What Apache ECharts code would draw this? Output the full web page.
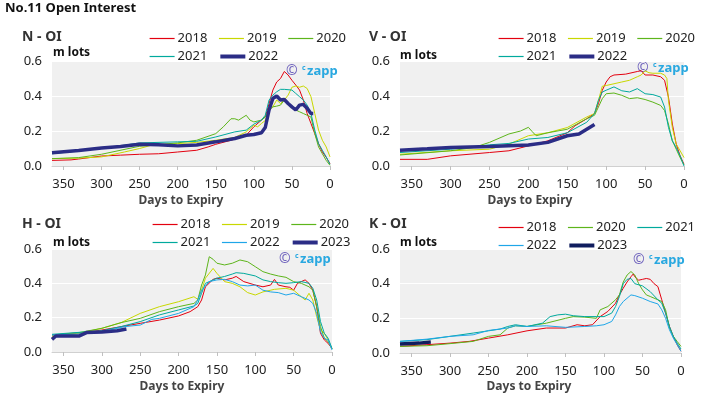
<!DOCTYPE html>
<html><head><meta charset="utf-8">
<script src="https://cdn.jsdelivr.net/npm/echarts@6/dist/echarts.min.js"></script>
<style>html,body{margin:0;padding:0;background:#fff}#c{width:716px;height:403px}</style>
</head><body><div id="c"></div>
<script>
// ---- Tick labels ----
const xTicks = [0, 50, 100, 150, 200, 250, 300, 350];
const yTicks = [0, 0.2, 0.4, 0.6];

// ---- N - OI (days to expiry, m lots) ----
const n2018 = [[365,0.032],[340,0.035],[330,0.04],[300,0.057],[275,0.062],[250,0.067],[225,0.07],[200,0.08],[175,0.09],[160,0.109],[150,0.124],[130,0.147],[110,0.176],[100,0.224],[90,0.262],[85,0.28],[80,0.357],[75,0.434],[70,0.48],[65,0.5],[60,0.54],[55,0.52],[50,0.49],[45,0.463],[40,0.434],[35,0.377],[30,0.3],[25,0.243],[20,0.185],[15,0.128],[10,0.08],[5,0.05],[0,0.013]];
const n2019 = [[365,0.042],[330,0.045],[300,0.052],[270,0.08],[250,0.1],[235,0.118],[200,0.128],[175,0.135],[150,0.147],[125,0.163],[110,0.195],[100,0.233],[95,0.224],[90,0.243],[85,0.26],[80,0.32],[75,0.338],[70,0.377],[65,0.357],[60,0.377],[55,0.405],[50,0.45],[45,0.457],[40,0.45],[35,0.457],[30,0.443],[25,0.396],[20,0.3],[15,0.205],[10,0.147],[5,0.109],[0,0.052]];
const n2020 = [[365,0.042],[330,0.048],[300,0.067],[250,0.113],[200,0.132],[175,0.147],[150,0.185],[140,0.224],[130,0.27],[125,0.27],[120,0.262],[110,0.29],[105,0.262],[100,0.252],[90,0.262],[85,0.28],[80,0.32],[75,0.338],[70,0.342],[65,0.348],[60,0.377],[55,0.357],[50,0.338],[45,0.32],[40,0.31],[35,0.3],[30,0.29],[25,0.28],[20,0.185],[15,0.109],[10,0.07],[5,0.032],[0,0.004]];
const n2021 = [[365,0.07],[300,0.1],[250,0.132],[200,0.138],[175,0.141],[150,0.166],[125,0.195],[110,0.205],[100,0.239],[90,0.262],[85,0.29],[80,0.377],[75,0.405],[70,0.424],[65,0.438],[60,0.438],[50,0.434],[45,0.415],[40,0.396],[35,0.377],[30,0.348],[25,0.3],[20,0.205],[15,0.128],[10,0.09],[5,0.052],[0,0.01]];
const n2022 = [[365,0.076],[330,0.088],[300,0.103],[275,0.112],[250,0.124],[225,0.122],[200,0.115],[175,0.12],[150,0.138],[125,0.157],[110,0.176],[100,0.18],[90,0.19],[85,0.22],[80,0.32],[75,0.386],[70,0.4],[65,0.377],[60,0.38],[55,0.357],[50,0.338],[45,0.32],[40,0.348],[35,0.352],[30,0.33],[25,0.3],[22,0.3]];

// ---- V - OI ----
const v2018 = [[365,0.038],[330,0.038],[300,0.058],[250,0.077],[225,0.087],[200,0.115],[175,0.144],[150,0.19],[140,0.23],[125,0.27],[115,0.3],[110,0.356],[105,0.433],[100,0.48],[95,0.51],[90,0.52],[75,0.525],[60,0.54],[55,0.545],[50,0.52],[40,0.52],[30,0.51],[25,0.49],[20,0.394],[15,0.24],[10,0.125],[5,0.058],[0,0.01]];
const v2019 = [[365,0.067],[300,0.087],[250,0.096],[225,0.125],[200,0.173],[175,0.19],[150,0.22],[125,0.28],[115,0.3],[110,0.375],[105,0.456],[100,0.46],[90,0.47],[80,0.48],[70,0.49],[60,0.51],[55,0.52],[50,0.544],[45,0.533],[40,0.53],[30,0.53],[25,0.52],[22,0.5],[20,0.375],[15,0.22],[10,0.125],[5,0.087],[0,0.048]];
const v2020 = [[365,0.063],[300,0.087],[270,0.106],[250,0.135],[225,0.183],[210,0.2],[200,0.221],[195,0.196],[190,0.173],[175,0.19],[150,0.21],[125,0.27],[115,0.29],[110,0.337],[105,0.385],[100,0.413],[90,0.417],[80,0.404],[70,0.385],[60,0.39],[50,0.38],[40,0.365],[30,0.346],[25,0.317],[20,0.24],[15,0.144],[10,0.096],[5,0.048],[0,0.006]];
const v2021 = [[365,0.077],[300,0.096],[250,0.121],[225,0.129],[200,0.154],[175,0.163],[150,0.19],[125,0.25],[115,0.3],[110,0.375],[105,0.423],[100,0.433],[90,0.452],[80,0.43],[70,0.423],[60,0.442],[50,0.413],[40,0.408],[30,0.394],[25,0.337],[20,0.221],[15,0.144],[10,0.106],[5,0.058],[0,0]];
const v2022 = [[365,0.09],[330,0.098],[300,0.106],[250,0.112],[200,0.12],[175,0.135],[150,0.173],[135,0.183],[125,0.21],[115,0.237]];

// ---- H - OI ----
const h2018 = [[365,0.099],[330,0.109],[300,0.128],[250,0.167],[225,0.186],[200,0.21],[185,0.235],[175,0.264],[170,0.303],[165,0.38],[155,0.423],[150,0.43],[140,0.42],[130,0.43],[125,0.44],[115,0.41],[100,0.39],[90,0.38],[80,0.39],[75,0.423],[70,0.39],[60,0.38],[55,0.377],[50,0.36],[45,0.4],[40,0.41],[35,0.42],[30,0.4],[25,0.36],[20,0.264],[15,0.109],[10,0.07],[5,0.05],[0,0.02]];
const h2019 = [[365,0.089],[330,0.109],[300,0.138],[275,0.171],[250,0.225],[225,0.264],[200,0.293],[180,0.322],[175,0.307],[170,0.36],[165,0.43],[155,0.487],[150,0.458],[140,0.41],[130,0.4],[120,0.38],[110,0.346],[100,0.332],[90,0.35],[75,0.365],[60,0.371],[50,0.36],[40,0.322],[35,0.303],[30,0.342],[25,0.303],[20,0.206],[15,0.128],[10,0.109],[5,0.07],[0,0.02]];
const h2020 = [[365,0.099],[330,0.113],[300,0.138],[275,0.171],[250,0.196],[225,0.235],[200,0.264],[180,0.283],[175,0.303],[170,0.39],[165,0.449],[160,0.555],[155,0.54],[150,0.517],[140,0.507],[130,0.517],[120,0.536],[110,0.526],[100,0.497],[90,0.468],[80,0.454],[70,0.443],[60,0.435],[50,0.41],[40,0.4],[30,0.38],[25,0.36],[20,0.264],[15,0.148],[10,0.08],[5,0.06],[0,0.02]];
const h2021 = [[365,0.103],[300,0.124],[275,0.148],[250,0.177],[225,0.216],[200,0.245],[180,0.268],[175,0.283],[170,0.342],[165,0.4],[155,0.42],[150,0.43],[140,0.44],[130,0.454],[125,0.462],[115,0.458],[100,0.443],[90,0.42],[80,0.41],[70,0.404],[60,0.4],[50,0.404],[40,0.41],[30,0.4],[25,0.371],[20,0.303],[15,0.177],[10,0.109],[5,0.08],[0,0.02]];
const h2022 = [[365,0.099],[330,0.105],[300,0.118],[270,0.148],[250,0.157],[235,0.19],[225,0.196],[200,0.225],[180,0.264],[175,0.303],[170,0.36],[165,0.385],[160,0.41],[150,0.42],[140,0.423],[130,0.41],[120,0.39],[110,0.385],[100,0.39],[90,0.36],[80,0.35],[70,0.346],[60,0.332],[50,0.342],[40,0.322],[30,0.303],[25,0.283],[20,0.225],[15,0.118],[10,0.08],[5,0.07],[0,0.012]];
const h2023 = [[365,0.074],[360,0.093],[330,0.093],[320,0.113],[300,0.117],[280,0.124],[268,0.134]];

// ---- K - OI ----
const k2018 = [[365,0.038],[330,0.048],[300,0.057],[275,0.067],[250,0.086],[225,0.105],[200,0.128],[175,0.144],[150,0.144],[135,0.163],[125,0.157],[115,0.163],[105,0.21],[95,0.24],[85,0.287],[80,0.335],[75,0.374],[70,0.41],[65,0.44],[62,0.456],[60,0.44],[55,0.42],[50,0.425],[45,0.43],[40,0.425],[35,0.4],[30,0.383],[25,0.307],[20,0.23],[15,0.153],[10,0.096],[5,0.048],[0,0.01]];
const k2020 = [[365,0.038],[330,0.042],[300,0.054],[270,0.067],[250,0.096],[235,0.105],[225,0.144],[215,0.157],[200,0.153],[175,0.172],[150,0.2],[140,0.21],[125,0.207],[110,0.2],[105,0.249],[95,0.268],[85,0.307],[80,0.335],[75,0.41],[70,0.45],[65,0.47],[60,0.45],[55,0.4],[50,0.364],[45,0.335],[40,0.326],[30,0.307],[25,0.297],[20,0.249],[15,0.144],[10,0.096],[5,0.067],[0,0.038]];
const k2021 = [[365,0.067],[330,0.077],[300,0.096],[270,0.115],[250,0.128],[235,0.138],[225,0.153],[215,0.163],[200,0.153],[180,0.172],[170,0.21],[160,0.22],[150,0.224],[140,0.215],[125,0.21],[110,0.21],[100,0.21],[90,0.23],[85,0.268],[80,0.326],[75,0.4],[70,0.425],[65,0.43],[60,0.4],[50,0.387],[40,0.354],[30,0.307],[25,0.287],[20,0.23],[15,0.153],[10,0.096],[5,0.057],[0,0.023]];
const k2022 = [[365,0.067],[330,0.08],[300,0.096],[270,0.105],[250,0.13],[225,0.144],[215,0.157],[200,0.153],[175,0.157],[150,0.148],[125,0.153],[110,0.157],[100,0.163],[90,0.182],[85,0.22],[80,0.268],[75,0.297],[65,0.335],[60,0.331],[50,0.316],[40,0.297],[30,0.283],[25,0.249],[20,0.2],[15,0.134],[10,0.086],[5,0.048],[0,0.01]];
const k2023 = [[365,0.052],[340,0.057],[325,0.063]];

const C = {r:'#e3000f', y:'#c8d800', g:'#5db51b', t:'#00a99d', b:'#1fa6e8', n:'#2b2d86', nk:'#101d5e'};
const FONT = '"Noto Sans", "Open Sans", sans-serif';

const panels = [
  {name:'N - OI', grid:{left:52, top:61, width:278, height:105}, lx:144, ly:[27,45],
   series:[['2018',n2018,C.r,1],['2019',n2019,C.y,1],['2020',n2020,C.g,1],['2021',n2021,C.t,1],['2022',n2022,C.n,3.5]],
   rows:[['2018','2019','2020'],['2021','2022']], tx:22, ty:37, mx:53, my:53, wx:286, wy:71, dx:181, dy:201},
  {name:'V - OI', grid:{left:400, top:61, width:284, height:105}, lx:493, ly:[27,45],
   series:[['2018',v2018,C.r,1],['2019',v2019,C.y,1],['2020',v2020,C.g,1],['2021',v2021,C.t,1],['2022',v2022,C.n,3.5]],
   rows:[['2018','2019','2020'],['2021','2022']], tx:369, ty:37, mx:400, my:56, wx:637, wy:68, dx:530, dy:201},
  {name:'H - OI', grid:{left:52, top:249, width:280, height:103}, lx:147, ly:[213,231],
   series:[['2018',h2018,C.r,1],['2019',h2019,C.y,1],['2020',h2020,C.g,1],['2021',h2021,C.t,1],['2022',h2022,C.b,1],['2023',h2023,C.n,3.5]],
   rows:[['2018','2019','2020'],['2021','2022','2023']], tx:22, ty:224, mx:53, my:243, wx:279, wy:259, dx:182, dy:387},
  {name:'K - OI', grid:{left:400, top:249, width:281, height:104}, lx:493, ly:[216,234],
   series:[['2018',k2018,C.r,1],['2020',k2020,C.g,1],['2021',k2021,C.t,1],['2022',k2022,C.b,1],['2023',k2023,C.nk,3.5]],
   rows:[['2018','2020','2021'],['2022','2023']], tx:369, ty:224, mx:400, my:243, wx:633, wy:260, dx:529, dy:387}
];

const option = {animation:false, grid:[], xAxis:[], yAxis:[], series:[], legend:[], graphic:[]};
option.graphic.push({type:'text', style:{text:'No.11 Open Interest', x:5, y:8, font:'bold 13px '+FONT, fill:'#111', textAlign:'left', textVerticalAlign:'middle'}});

panels.forEach((p, i) => {
  option.grid.push(Object.assign({show:true, backgroundColor:'#f0f0f0', borderWidth:0}, p.grid));
  option.xAxis.push({type:'value', gridIndex:i, min:0, max:365, inverse:true,
    axisLine:{show:true, lineStyle:{color:'#d0d0d0'}},
    axisTick:{show:true, length:4, lineStyle:{color:'#c0c0c0'}, customValues:xTicks},
    axisLabel:{customValues:xTicks, color:'#222', fontSize:13, fontFamily:FONT, margin:12},
    splitLine:{show:false}});
  option.yAxis.push({type:'value', gridIndex:i, min:0, max:0.6, interval:0.2,
    axisLine:{show:false}, axisTick:{show:false},
    axisLabel:{color:'#222', fontSize:13, fontFamily:FONT, margin:10, formatter:v=>v.toFixed(1)},
    splitLine:{show:true, lineStyle:{color:'#ffffff', width:1}}});
  const widths = {};
  p.series.forEach(s => {
    const id = s[0] + '_' + i;
    widths[id] = s[3];
    option.series.push({type:'line', name:id, xAxisIndex:i, yAxisIndex:i, data:s[1], symbol:'none',
      lineStyle:{color:s[2], width:s[3]}, itemStyle:{color:s[2]}, z: s[3] > 2 ? 5 : 2});
  });
  p.rows.forEach((row, r) => {
    option.legend.push({left:p.lx, top:p.ly[r], orient:'horizontal', itemWidth:25, itemHeight:12, itemGap:11,
      data:row.map(y => ({name:y + '_' + i, lineStyle:{width: widths[y + '_' + i] > 2 ? 4 : 1.2}})),
      formatter:n => n.split('_')[0],
      itemStyle:{opacity:0, borderWidth:0},
      selectedMode:false, textStyle:{fontSize:13, color:'#222', fontFamily:FONT, padding:[0,0,0,-2]}});
  });
  option.graphic.push({type:'text', style:{text:p.name, x:p.tx, y:p.ty, font:'bold 14px '+FONT, fill:'#333', textAlign:'left', textVerticalAlign:'middle'}});
  option.graphic.push({type:'text', style:{text:'m lots', x:p.mx, y:p.my, font:'bold 12px '+FONT, fill:'#111', textAlign:'left', textVerticalAlign:'middle'}});
  option.graphic.push({type:'text', style:{text:'©', x:p.wx, y:p.wy, font:'14px '+FONT, fill:'#6f63bd', textAlign:'left', textVerticalAlign:'middle'}});
  option.graphic.push({type:'text', style:{text:'c', x:p.wx+16, y:p.wy-3, font:'bold 7px '+FONT, fill:'#29a8e0', textAlign:'left', textVerticalAlign:'middle'}});
  option.graphic.push({type:'text', style:{text:'zapp', x:p.wx+21, y:p.wy, font:'bold 13px '+FONT, fill:'#29a8e0', textAlign:'left', textVerticalAlign:'middle'}});
  option.graphic.push({type:'text', style:{text:'Days to Expiry', x:p.dx, y:p.dy, font:'bold 12px '+FONT, fill:'#444', textAlign:'center', textVerticalAlign:'middle'}});
});

const chart = echarts.init(document.getElementById('c'), null, {renderer:'canvas'});
chart.setOption(option);
</script></body></html>
